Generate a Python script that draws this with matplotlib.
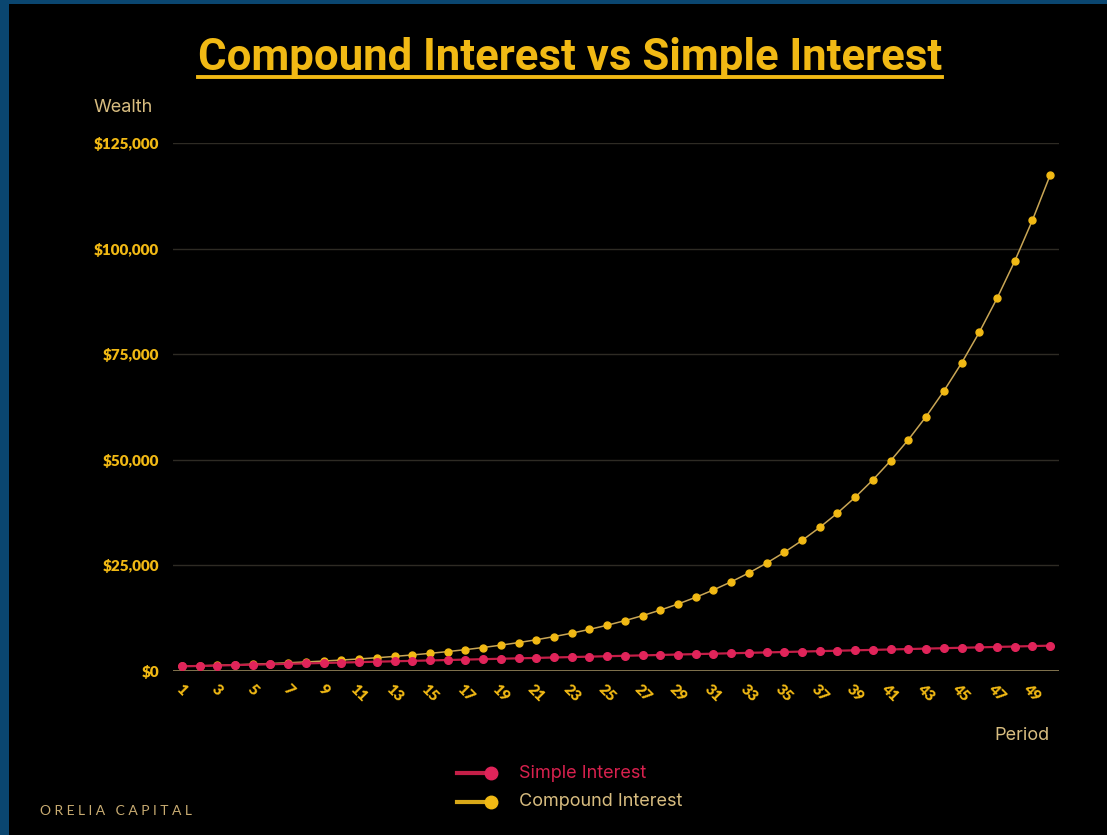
import matplotlib.pyplot as plt
from matplotlib.lines import Line2D
from matplotlib.ticker import FuncFormatter

# data
periods = list(range(1, 51))
simple_interest = [1100, 1200, 1300, 1400, 1500, 1600, 1700, 1800, 1900, 2000,
                   2100, 2200, 2300, 2400, 2500, 2600, 2700, 2800, 2900, 3000,
                   3100, 3200, 3300, 3400, 3500, 3600, 3700, 3800, 3900, 4000,
                   4100, 4200, 4300, 4400, 4500, 4600, 4700, 4800, 4900, 5000,
                   5100, 5200, 5300, 5400, 5500, 5600, 5700, 5800, 5900, 6000]
compound_interest = [1100, 1210, 1331, 1464, 1611, 1772, 1949, 2144, 2358, 2594,
                     2853, 3138, 3452, 3797, 4177, 4595, 5054, 5560, 6116, 6727,
                     7400, 8140, 8954, 9850, 10835, 11918, 13110, 14421, 15863, 17449,
                     19194, 21114, 23225, 25548, 28102, 30913, 34004, 37404, 41145, 45259,
                     49785, 54764, 60240, 66264, 72890, 80180, 88197, 97017, 106719, 117391]
y_ticks = [0, 25000, 50000, 75000, 100000, 125000]
x_ticks = list(range(1, 50, 2))

YELLOW = '#f1b914'
TAN = '#d8bd80'
PINK = '#e0245a'
BLUE = '#0a4670'

fig = plt.figure(figsize=(11.07, 8.35), dpi=100, facecolor=BLUE)

# black panel inside the blue frame
bg = fig.add_axes([9 / 1107, 0, 1 - 9 / 1107, 1 - 4 / 835])
bg.set_facecolor('black')
bg.set_xticks([])
bg.set_yticks([])
for s in bg.spines.values():
    s.set_visible(False)

ax = fig.add_axes([173 / 1107, 1 - 671 / 835, (1059 - 173) / 1107, (671 - 143) / 835])
ax.set_facecolor('none')

ax.plot(periods, compound_interest, color='#c9a655', lw=1.1, marker='o',
        markersize=5, markerfacecolor=YELLOW, markeredgecolor=YELLOW, zorder=3)
ax.plot(periods, simple_interest, color='#c41f48', lw=1.6, marker='o',
        markersize=5.5, markerfacecolor=PINK, markeredgecolor=PINK, zorder=4)

ax.set_xlim(0.5, 50.5)
ax.set_ylim(0, 125000)
ax.set_yticks(y_ticks)
ax.yaxis.set_major_formatter(FuncFormatter(lambda v, p: f'${v:,.0f}'))
ax.set_xticks(x_ticks)
ax.set_xticklabels([str(t) for t in x_ticks], rotation=-45, ha='center', va='top')

for lbl in ax.get_yticklabels() + ax.get_xticklabels():
    lbl.set_fontfamily('Lato')
    lbl.set_fontweight('heavy')
    lbl.set_fontsize(11)
    lbl.set_color(YELLOW)

ax.tick_params(axis='both', length=0)
ax.tick_params(axis='y', pad=10)
ax.tick_params(axis='x', pad=8)

for v in y_ticks[1:]:
    ax.axhline(v, color='#2e2b24', lw=1, zorder=1)
for name, s in ax.spines.items():
    s.set_visible(False)
ax.axhline(0, color='#8c7d55', lw=1.3, zorder=2)

# title with underline
title = fig.text(0.515, 1 - 58 / 835, 'Compound Interest vs Simple Interest',
                 ha='center', va='center', fontsize=31.5, fontweight='bold',
                 fontfamily='Roboto', color=YELLOW)
fig.canvas.draw()
bb = title.get_window_extent().transformed(fig.transFigure.inverted())
fig.add_artist(Line2D([bb.x0, bb.x1], [1 - 77 / 835] * 2, color=YELLOW, lw=2.8))

fig.text(94 / 1107, 1 - 107 / 835, 'Wealth', ha='left', va='center',
         fontsize=13, fontfamily='Inter', color=TAN)
fig.text(1050 / 1107, 1 - 736 / 835, 'Period', ha='right', va='center',
         fontsize=13, fontfamily='Inter', color=TAN)

# legend drawn by hand: line then dot on the right
for y, c, lc, txt, tc in [(773, PINK, '#c41f48', 'Simple Interest', '#d8214e'),
                          (802, YELLOW, '#d8a818', 'Compound Interest', TAN)]:
    yf = 1 - y / 835
    fig.add_artist(Line2D([457 / 1107, 485 / 1107], [yf, yf], color=lc, lw=3))
    fig.add_artist(Line2D([491 / 1107], [yf], marker='o', markersize=9,
                          color=c, markeredgecolor=c))
    fig.text(519 / 1107, yf, txt, ha='left', va='center', fontsize=13,
             fontfamily='Inter', color=tc)

fig.text(40 / 1107, 1 - 811 / 835, 'O R E L I A   C A P I T A L', ha='left',
         va='center', fontsize=10, fontfamily='Lato', color='#c9ac72')

fig.savefig('out.png', dpi=100, facecolor=fig.get_facecolor())
